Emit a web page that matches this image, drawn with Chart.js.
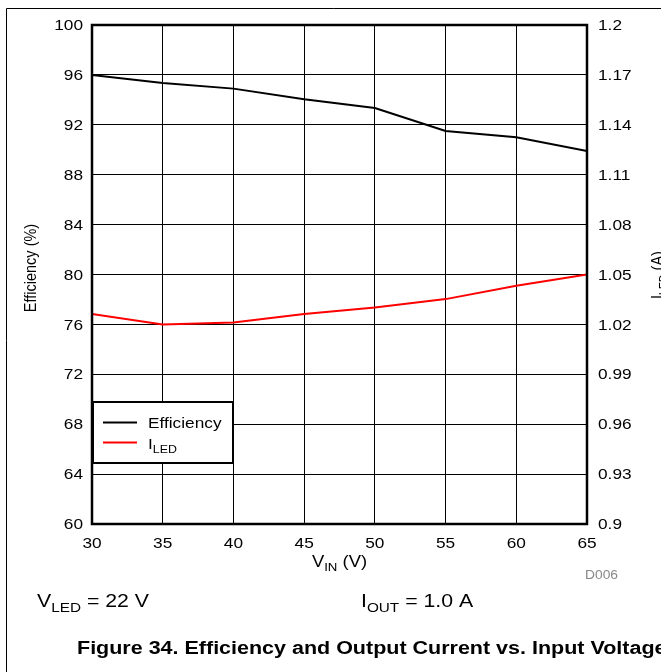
<!DOCTYPE html>
<html>
<head>
<meta charset="utf-8">
<script src="https://cdn.jsdelivr.net/npm/chart.js@4"></script>
<style>
  html, body { margin: 0; padding: 0; background: #fff; }
  #wrap { width: 661px; height: 672px; position: relative; }
</style>
</head>
<body>
<div id="wrap"><canvas id="chart" width="661" height="672"></canvas></div>
<script>
// data
const vin = [30, 35, 40, 45, 50, 55, 60, 65];
const efficiency = [96.0, 95.35, 94.9, 94.05, 93.35, 91.5, 91.0, 89.9];
const iled = [1.0262, 1.0200, 1.0212, 1.0262, 1.0302, 1.0352, 1.0432, 1.0500];
const effTicks = [60, 64, 68, 72, 76, 80, 84, 88, 92, 96, 100];
const iledTicks = ['0.9', '0.93', '0.96', '0.99', '1.02', '1.05', '1.08', '1.11', '1.14', '1.17', '1.2'];

const FONT = 'Liberation Sans, Arial, sans-serif';
const SX = 1.15; // the original figure text is a bit wide

// stretched text, parts may be subscripts; x is the left edge, y the baseline
function partsWidth(ctx, parts, size, weight) {
  let w = 0;
  parts.forEach(p => {
    ctx.font = (weight || '') + ' ' + (p.sub ? size * 0.72 : size) + 'px ' + FONT;
    w += ctx.measureText(p.t).width;
  });
  return w * SX;
}
function drawParts(ctx, parts, x, y, size, align, weight) {
  const w = partsWidth(ctx, parts, size, weight);
  let left = x;
  if (align === 'center') left = x - w / 2;
  if (align === 'right') left = x - w;
  ctx.save();
  ctx.translate(left, y);
  ctx.scale(SX, 1);
  ctx.textAlign = 'left';
  let cx = 0;
  parts.forEach(p => {
    ctx.font = (weight || '') + ' ' + (p.sub ? size * 0.72 : size) + 'px ' + FONT;
    ctx.fillText(p.t, cx, p.sub ? size * 0.28 : 0);
    cx += ctx.measureText(p.t).width;
  });
  ctx.restore();
}
function txt(ctx, s, x, y, size, align, weight) {
  drawParts(ctx, [{t: s}], x, y, size, align, weight);
}

const extras = {
  id: 'extras',
  afterDraw(chart) {
    const ctx = chart.ctx;
    const a = chart.chartArea;
    const sc = chart.scales;
    ctx.save();

    // page frame
    ctx.strokeStyle = '#000';
    ctx.lineWidth = 1;
    ctx.beginPath();
    ctx.moveTo(6.5, 672);
    ctx.lineTo(6.5, 8.5);
    ctx.lineTo(661, 8.5);
    ctx.stroke();

    // plot border
    ctx.lineWidth = 2.5;
    ctx.strokeRect(a.left, a.top, a.right - a.left, a.bottom - a.top);

    ctx.fillStyle = '#000';
    ctx.textBaseline = 'middle';

    // tick labels from the scales
    sc.y.ticks.forEach(t => txt(ctx, String(t.value), a.left - 9, sc.y.getPixelForValue(t.value) + 1, 15, 'right'));
    sc.y1.ticks.forEach((t, i) => txt(ctx, iledTicks[i], a.right + 11, sc.y1.getPixelForValue(t.value) + 1, 15, 'left'));
    sc.x.ticks.forEach(t => txt(ctx, String(t.value), sc.x.getPixelForValue(t.value), a.bottom + 20, 15, 'center'));

    ctx.textBaseline = 'alphabetic';

    // left title (rotated; stretch becomes thickness)
    ctx.save();
    ctx.translate(36, 268);
    ctx.rotate(-Math.PI / 2);
    ctx.scale(1, SX);
    ctx.font = '14.5px ' + FONT;
    ctx.textAlign = 'center';
    ctx.fillText('Efficiency (%)', 0, 0);
    ctx.restore();

    // right title (cut by the edge)
    ctx.save();
    ctx.translate(663, 275);
    ctx.rotate(-Math.PI / 2);
    ctx.scale(1, SX);
    ctx.textAlign = 'left';
    const rt = [{t: 'I'}, {t: 'LED', sub: true}, {t: ' (A)'}];
    let w = 0;
    rt.forEach(p => { ctx.font = (p.sub ? 10.5 : 14.5) + 'px ' + FONT; w += ctx.measureText(p.t).width; });
    let cx = -w / 2;
    rt.forEach(p => {
      ctx.font = (p.sub ? 10.5 : 14.5) + 'px ' + FONT;
      ctx.fillText(p.t, cx, p.sub ? 4 : 0);
      cx += ctx.measureText(p.t).width;
    });
    ctx.restore();

    // x title
    drawParts(ctx, [{t: 'V'}, {t: 'IN', sub: true}, {t: ' (V)'}], 339.5, 567, 16, 'center');

    // D006
    ctx.fillStyle = '#888';
    txt(ctx, 'D006', 585, 579, 12, 'left');

    // conditions
    ctx.fillStyle = '#000';
    drawParts(ctx, [{t: 'V'}, {t: 'LED', sub: true}, {t: ' = 22 V'}], 37, 607, 18.5, 'left');
    drawParts(ctx, [{t: 'I'}, {t: 'OUT', sub: true}, {t: ' = 1.0 A'}], 361, 607, 18.5, 'left');

    // caption
    txt(ctx, 'Figure 34. Efficiency and Output Current vs. Input Voltage', 77, 654, 18.7, 'left', 'bold');

    // legend
    ctx.fillStyle = '#fff';
    ctx.fillRect(93, 402, 140, 61);
    ctx.strokeStyle = '#000';
    ctx.lineWidth = 2;
    ctx.strokeRect(93, 402, 140, 61);
    ctx.beginPath(); ctx.moveTo(103, 422.5); ctx.lineTo(137, 422.5); ctx.stroke();
    ctx.strokeStyle = '#ff0000';
    ctx.beginPath(); ctx.moveTo(103, 442.5); ctx.lineTo(137, 442.5); ctx.stroke();
    ctx.fillStyle = '#000';
    txt(ctx, chart.data.datasets[0].label, 148, 428, 15, 'left');
    drawParts(ctx, [{t: 'I'}, {t: 'LED', sub: true}], 148, 449, 15, 'left');

    ctx.restore();
  }
};

new Chart(document.getElementById('chart'), {
  type: 'line',
  data: {
    labels: vin,
    datasets: [
      {
        label: 'Efficiency',
        data: vin.map((v, i) => ({x: v, y: efficiency[i]})),
        borderColor: '#000',
        borderWidth: 2,
        pointRadius: 0,
        tension: 0,
        yAxisID: 'y'
      },
      {
        label: 'ILED',
        data: vin.map((v, i) => ({x: v, y: iled[i]})),
        borderColor: '#ff0000',
        borderWidth: 2,
        pointRadius: 0,
        tension: 0,
        yAxisID: 'y1'
      }
    ]
  },
  options: {
    responsive: false,
    animation: false,
    devicePixelRatio: 1,
    layout: { padding: { top: 25, left: 0, right: 0, bottom: 0 } },
    plugins: { legend: { display: false }, tooltip: { enabled: false } },
    scales: {
      x: {
        type: 'linear',
        min: 30,
        max: 65,
        afterFit: s => { s.height = 148; },
        afterBuildTicks: s => { s.ticks = vin.map(v => ({value: v})); },
        grid: { color: '#000', lineWidth: 1, drawTicks: false },
        border: { display: false },
        ticks: { display: false }
      },
      y: {
        position: 'left',
        min: 60,
        max: 100,
        afterFit: s => { s.width = 92; },
        afterBuildTicks: s => { s.ticks = effTicks.map(v => ({value: v})); },
        grid: { color: '#000', lineWidth: 1, drawTicks: false },
        border: { display: false },
        ticks: { display: false }
      },
      y1: {
        position: 'right',
        min: 0.9,
        max: 1.2,
        afterFit: s => { s.width = 74; },
        afterBuildTicks: s => { s.ticks = iledTicks.map(v => ({value: parseFloat(v)})); },
        grid: { display: false, drawTicks: false },
        border: { display: false },
        ticks: { display: false }
      }
    }
  },
  plugins: [extras]
});
</script>
</body>
</html>
